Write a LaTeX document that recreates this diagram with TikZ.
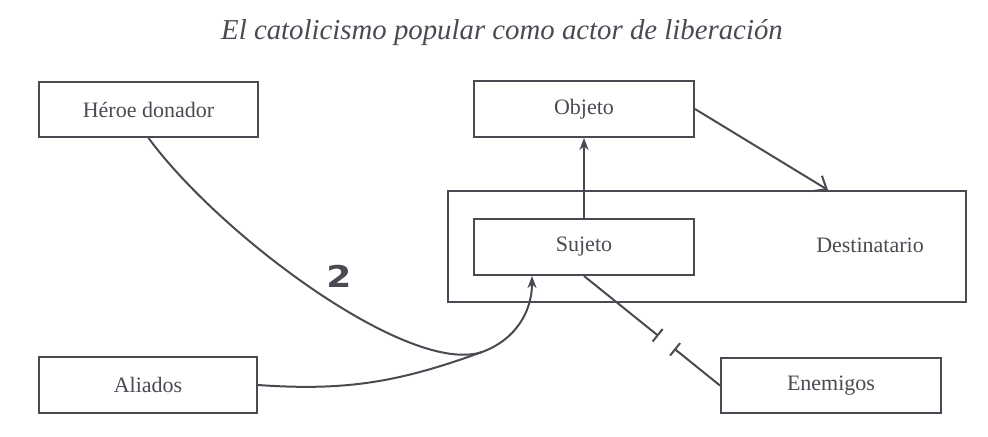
\documentclass[tikz,border=0pt]{standalone}
\usepackage{fontspec}
\setmainfont{Liberation Serif}
\newfontfamily\numfont{DejaVu Sans}
\usepackage{tikz}
\usetikzlibrary{arrows.meta,calc}
\definecolor{inkgray}{HTML}{4A4A52}
\tikzset{
  actbox/.style={draw=inkgray, line width=1pt, inner sep=0pt, minimum width=110pt, minimum height=28pt, text=inkgray, font=\fontsize{11}{13}\selectfont},
  link/.style={inkgray, line width=1pt},
  linkarrow/.style={link, -{Stealth[length=6pt, width=4.5pt, inset=1.8pt]}},
  linkbarb/.style={link, -{Straight Barb[length=5.5pt, width=9pt, line width=1pt]}},
  breakbar/.style={link, -{Bar[width=8pt, line width=1pt]}},
  labelnode/.style={text=inkgray, inner sep=0pt}
}
\begin{document}
\begin{tikzpicture}[x=0.5pt, y=0.5pt]
  \useasboundingbox (0,0) rectangle (988,436);
  \node[labelnode, font=\fontsize{14.4}{17}\selectfont\itshape] (title) at (502,403) {El catolicismo popular como actor de liberación};
  \node[actbox, minimum width=109.5pt, minimum height=27.5pt] (heroe) at (148.5,326.5) {Héroe donador};
  \node[actbox] (objeto) at (584,327) {Objeto};
  \node[actbox, minimum width=259pt, minimum height=55.5pt] (dest) at (707,189.5) {};
  \node[labelnode, font=\fontsize{11}{13}\selectfont] (destlabel) at (870,191) {Destinatario};
  \node[actbox] (sujeto) at (584,189) {Sujeto};
  \node[actbox, minimum width=109pt] (aliados) at (148,51) {Aliados};
  \node[actbox, minimum height=27.5pt] (enemigos) at (831,50.5) {Enemigos};
  \node[labelnode, font=\fontsize{15}{17}\numfont\bfseries, xscale=1.2] (paso) at (339,160) {2};
  \coordinate (merge) at (482,84);
  \coordinate (sujetoin) at ([xshift=-26pt]sujeto.south);
  \coordinate (destin) at ([xshift=60.5pt]dest.north);
  \coordinate (brkA) at ($(sujeto.south)!0.547!(enemigos.west)$);
  \coordinate (brkB) at ($(sujeto.south)!0.664!(enemigos.west)$);
  \draw[linkarrow] (sujeto) -- (objeto);
  \draw[linkbarb] (objeto.east) -- (destin);
  \draw[link] (heroe.south) .. controls +(73,-99) and +(-72,-24) .. (merge);
  \draw[link] (aliados.east) to[out=-4, in=200] (merge);
  \draw[linkarrow] (merge) to[out=20, in=-90] (sujetoin);
  \draw[breakbar] (sujeto.south) -- (brkA);
  \draw[breakbar] (enemigos.west) -- (brkB);
\end{tikzpicture}
\end{document}
